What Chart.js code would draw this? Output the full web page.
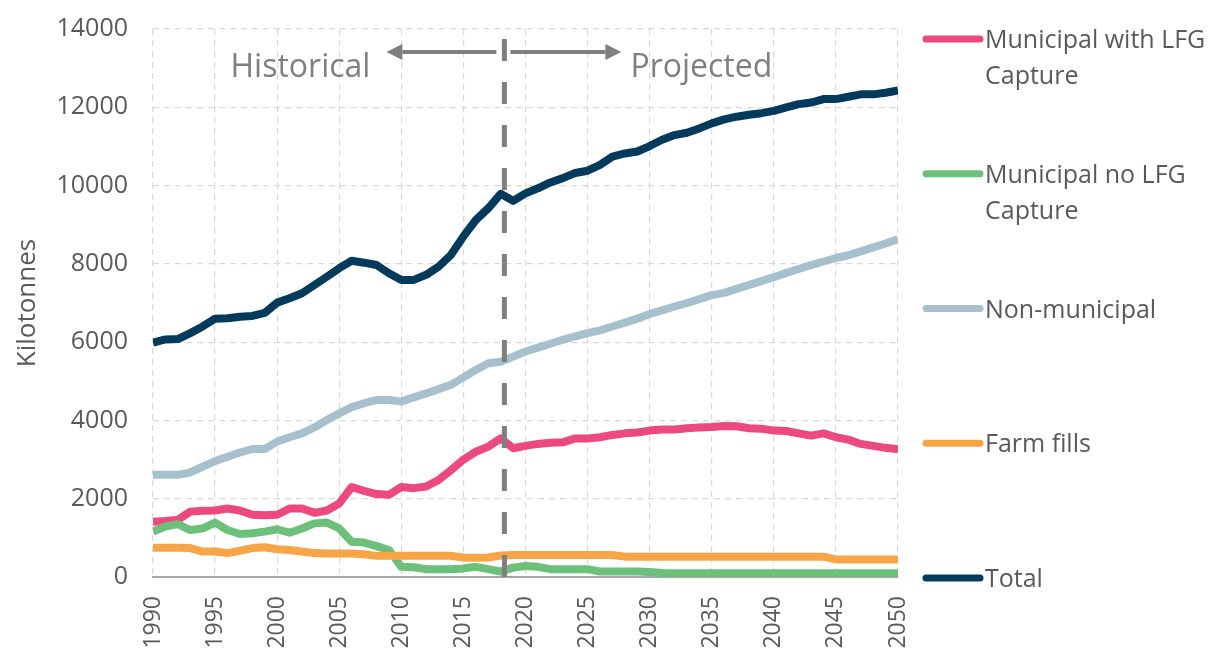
<!DOCTYPE html>
<html lang="en">
<head>
<meta charset="utf-8">
<title>Landfill emissions - historical and projected</title>
<style>
  html, body { margin: 0; padding: 0; background: #fff; }
  #wrap { width: 1215px; height: 653px; }
</style>
</head>
<body>
<div id="wrap"><canvas id="myChart" width="1215" height="653"></canvas></div>
<script src="https://cdn.jsdelivr.net/npm/chart.js"></script>
<script>
// years on the x axis
const years = [
  1990, 1991, 1992, 1993, 1994, 1995, 1996, 1997, 1998, 1999,
  2000, 2001, 2002, 2003, 2004, 2005, 2006, 2007, 2008, 2009,
  2010, 2011, 2012, 2013, 2014, 2015, 2016, 2017, 2018, 2019,
  2020, 2021, 2022, 2023, 2024, 2025, 2026, 2027, 2028, 2029,
  2030, 2031, 2032, 2033, 2034, 2035, 2036, 2037, 2038, 2039,
  2040, 2041, 2042, 2043, 2044, 2045, 2046, 2047, 2048, 2049,
  2050
];

// kilotonnes
const municipalLfg = [
  1410, 1430, 1460, 1670, 1690, 1700, 1750, 1700, 1590, 1580,
  1590, 1750, 1750, 1640, 1700, 1880, 2300, 2200, 2120, 2100,
  2300, 2270, 2310, 2480, 2730, 3000, 3200, 3330, 3540, 3290,
  3350, 3400, 3430, 3440, 3540, 3540, 3570, 3630, 3670, 3690,
  3740, 3770, 3770, 3800, 3820, 3830, 3860, 3850, 3800, 3790,
  3740, 3730, 3670, 3610, 3670, 3570, 3510, 3400, 3350, 3300,
  3260
];
const municipalNoLfg = [
  1160, 1290, 1350, 1200, 1240, 1390, 1200, 1100, 1120, 1160,
  1220, 1130, 1240, 1370, 1390, 1240, 900, 880, 790, 690,
  260, 250, 200, 200, 200, 220, 260, 200, 140, 240,
  280, 260, 200, 200, 200, 200, 140, 140, 140, 140,
  130, 100, 95, 95, 95, 95, 95, 95, 95, 95,
  95, 95, 95, 95, 95, 95, 95, 95, 95, 95,
  95
];
const nonMunicipal = [
  2610, 2610, 2610, 2670, 2820, 2960, 3070, 3180, 3270, 3270,
  3460, 3570, 3670, 3820, 4010, 4180, 4340, 4440, 4520, 4520,
  4480, 4590, 4690, 4800, 4910, 5100, 5290, 5460, 5500, 5630,
  5760, 5860, 5960, 6060, 6150, 6230, 6300, 6400, 6500, 6600,
  6720, 6810, 6910, 7000, 7100, 7200, 7260, 7360, 7460, 7560,
  7660, 7770, 7870, 7970, 8060, 8150, 8220, 8320, 8420, 8520,
  8630
];
const farmFills = [
  750, 750, 750, 740, 650, 650, 610, 670, 740, 760,
  710, 690, 650, 610, 600, 600, 600, 580, 540, 540,
  540, 540, 540, 540, 540, 500, 490, 500, 550, 560,
  560, 560, 560, 560, 560, 560, 560, 560, 520, 520,
  520, 520, 520, 520, 520, 520, 520, 520, 520, 520,
  520, 520, 520, 520, 520, 450, 450, 450, 450, 450,
  450
];
const total = [
  5990, 6070, 6080, 6230, 6400, 6600, 6610, 6650, 6670, 6750,
  7010, 7120, 7250, 7460, 7670, 7890, 8080, 8030, 7970, 7760,
  7590, 7590, 7720, 7930, 8230, 8700, 9120, 9420, 9790, 9610,
  9800, 9930, 10080, 10190, 10320, 10380, 10530, 10740, 10820, 10870,
  11010, 11170, 11290, 11350, 11460, 11590, 11690, 11760, 11810, 11850,
  11910, 12000, 12080, 12120, 12210, 12210, 12270, 12330, 12330, 12370,
  12430
];

const seriesNames = ['Municipal with LFG Capture', 'Municipal no LFG Capture', 'Non-municipal', 'Farm fills', 'Total'];
const legendLines = [['Municipal with LFG', 'Capture'], ['Municipal no LFG', 'Capture'], ['Non-municipal'], ['Farm fills'], ['Total']];
const seriesColors = ['#ec4a7f', '#6cc07a', '#a6c1cd', '#f8a548', '#023a5c'];

const yTicks = [0, 2000, 4000, 6000, 8000, 10000, 12000, 14000];
const xTicks = [1990, 1995, 2000, 2005, 2010, 2015, 2020, 2025, 2030, 2035, 2040, 2045, 2050];

// where history stops and projection begins
const splitYear = 2018.3;
const leftNote = 'Historical';
const rightNote = 'Projected';

const FONT = "'Open Sans', sans-serif";
Chart.defaults.font.family = FONT;
Chart.defaults.color = '#595959';

const allSeries = [municipalLfg, municipalNoLfg, nonMunicipal, farmFills, total];

function toPoints(arr) {
    return years.map(function(y, i) { return {x: y, y: arr[i]}; });
}

const datasets = allSeries.map(function(arr, i) {
    return {
        label: seriesNames[i],
        data: toPoints(arr),
        borderColor: seriesColors[i],
        backgroundColor: seriesColors[i],
        borderWidth: 8,
        borderJoinStyle: 'round',
        pointRadius: 0,
        tension: 0,
        order: allSeries.length - i   // Total drawn last (on top)
    };
});

function drawArrow(ctx, x1, y, x2) {
    const dir = x2 > x1 ? 1 : -1;
    const head = 16;
    ctx.beginPath();
    ctx.moveTo(x1, y);
    ctx.lineTo(x2 - dir * head, y);
    ctx.stroke();
    ctx.beginPath();
    ctx.moveTo(x2, y);
    ctx.lineTo(x2 - dir * head, y - 8);
    ctx.lineTo(x2 - dir * head, y + 8);
    ctx.closePath();
    ctx.fill();
}

// no extra room for half tick labels, the plot box is placed by layout.padding
function noPad(s) {
    s.paddingTop = 0;
    s.paddingBottom = 0;
    s.paddingLeft = 0;
    s.paddingRight = 0;
}

// dashed divider, arrows, notes and the right side legend
const overlay = {
    id: 'overlay',
    afterDatasetsDraw(chart) {
        const {ctx, chartArea, scales} = chart;
        const px = scales.x.getPixelForValue(splitYear);
        ctx.save();
        ctx.strokeStyle = '#7f7f7f';
        ctx.lineWidth = 5;
        ctx.setLineDash([22, 21]);
        ctx.beginPath();
        ctx.moveTo(px, chartArea.top + 10);
        ctx.lineTo(px, chartArea.bottom);
        ctx.stroke();
        ctx.restore();
    },
    afterDraw(chart) {
        const {ctx, chartArea, scales} = chart;
        const px = scales.x.getPixelForValue(splitYear);
        const ay = chartArea.top + 23;

        ctx.save();
        ctx.strokeStyle = '#7f7f7f';
        ctx.fillStyle = '#7f7f7f';
        ctx.lineWidth = 4;
        drawArrow(ctx, px - 8, ay, px - 118);
        drawArrow(ctx, px + 6, ay, px + 117);

        ctx.font = '32px ' + FONT;
        ctx.textBaseline = 'alphabetic';
        ctx.textAlign = 'right';
        ctx.fillText(leftNote, px - 134, chartArea.top + 48);
        ctx.textAlign = 'left';
        ctx.fillText(rightNote, px + 126, chartArea.top + 48);

        // legend
        const step = (chartArea.bottom - chartArea.top - 9) / (legendLines.length - 1);
        ctx.font = '25px ' + FONT;
        ctx.textAlign = 'left';
        ctx.lineCap = 'round';
        ctx.lineWidth = 7;
        legendLines.forEach(function(lines, i) {
            const y = chartArea.top + 10 + i * step;
            ctx.strokeStyle = seriesColors[i];
            ctx.beginPath();
            ctx.moveTo(chartArea.right + 28, y);
            ctx.lineTo(chartArea.right + 82, y);
            ctx.stroke();
            ctx.fillStyle = '#595959';
            lines.forEach(function(t, j) {
                ctx.fillText(t, chartArea.right + 87, y + 9 + j * 36);
            });
        });
        ctx.restore();
    }
};

const ctx = document.getElementById('myChart');
const chart = new Chart(ctx, {
    type: 'line',
    data: { datasets: datasets },
    options: {
        responsive: false,
        animation: false,
        layout: { padding: { top: 29, right: 317, bottom: 0, left: 0 } },
        plugins: {
            legend: { display: false },
            tooltip: { enabled: false }
        },
        scales: {
            x: {
                type: 'linear',
                min: 1990,
                max: 2050,
                afterBuildTicks: function(s) { s.ticks = xTicks.map(function(v) { return {value: v}; }); },
                afterFit: function(s) { s.height = 76; noPad(s); },
                ticks: {
                    autoSkip: false,
                    maxRotation: 90,
                    minRotation: 90,
                    padding: 19,
                    font: { size: 23 },
                    color: '#595959',
                    callback: function(v) { return String(v); }
                },
                grid: { color: '#d9d9d9', lineWidth: 1.2, drawTicks: false },
                border: { display: true, color: '#a6a6a6', width: 2, dash: [6, 5] }
            },
            y: {
                min: 0,
                max: 14000,
                afterBuildTicks: function(s) { s.ticks = yTicks.map(function(v) { return {value: v}; }); },
                afterFit: function(s) { s.width = 153; noPad(s); },
                ticks: {
                    padding: 25,
                    font: { size: 25 },
                    color: '#595959',
                    callback: function(v) { return String(v); }
                },
                grid: { color: '#d9d9d9', lineWidth: 1.2, drawTicks: false },
                border: { display: false, dash: [6, 5] },
                title: {
                    display: true,
                    text: 'Kilotonnes',
                    color: '#595959',
                    font: { size: 26 },
                    padding: { top: 12, bottom: 0 }
                }
            }
        }
    },
    plugins: [overlay]
});
</script>
</body>
</html>
